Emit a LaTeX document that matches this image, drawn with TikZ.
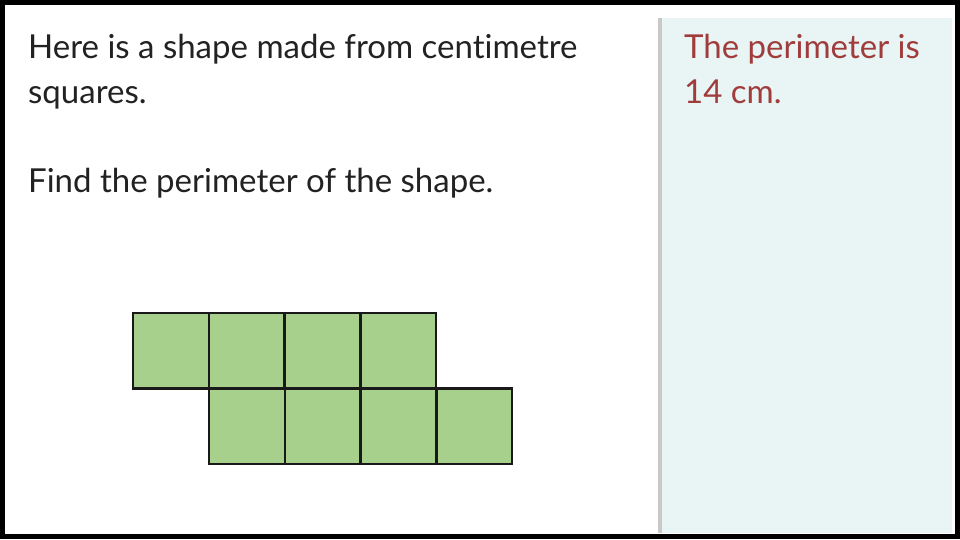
\documentclass[tikz,border=0pt]{standalone}
\usepackage{fontspec}
\setmainfont[Ligatures={NoCommon,NoRare}]{Lato}
\definecolor{panel}{HTML}{E9F5F5}
\definecolor{panelline}{HTML}{C8C8C8}
\definecolor{ansred}{HTML}{A03C3C}
\definecolor{txt}{HTML}{222222}
\definecolor{sqgreen}{HTML}{A8D08D}
\tikzset{
  qtext/.style={anchor=base west, inner sep=0pt, text=txt, font=\fontsize{33}{45}\selectfont},
  atext/.style={anchor=base west, inner sep=0pt, text=ansred, font=\fontsize{33}{45}\selectfont},
  cell/.style={fill=sqgreen, draw=black!90, line width=2.4pt},
}
\begin{document}
\begin{tikzpicture}[x=1pt,y=-1pt]
\useasboundingbox (0,0) rectangle (960,539);
\fill[white] (0,0) rectangle (960,539);
% answer panel
\fill[panel] (660,18) rectangle (952,533);
\fill[panelline] (658,18) rectangle (662,533);
% question text
\node[qtext] (q1) at (28,58) {Here is a shape made from centimetre};
\node[qtext] (q2) at (28,103) {squares.};
\node[qtext] (q3) at (28,192) {Find the perimeter of the shape.};
% answer text
\node[atext] (a1) at (684,58) {The perimeter is};
\node[atext] (a2) at (684,103) {14 cm.};
% squares
\foreach \i in {0,...,3} {
  \draw[cell] (133+75.8*\i,313) rectangle ++(75.8,75.4);
}
\foreach \i in {0,...,3} {
  \draw[cell] (209+75.8*\i,388.4) rectangle ++(75.8,75.4);
}
% outer border
\draw[line width=5pt] (2.5,2.5) rectangle (957.5,536.5);
\end{tikzpicture}
\end{document}
